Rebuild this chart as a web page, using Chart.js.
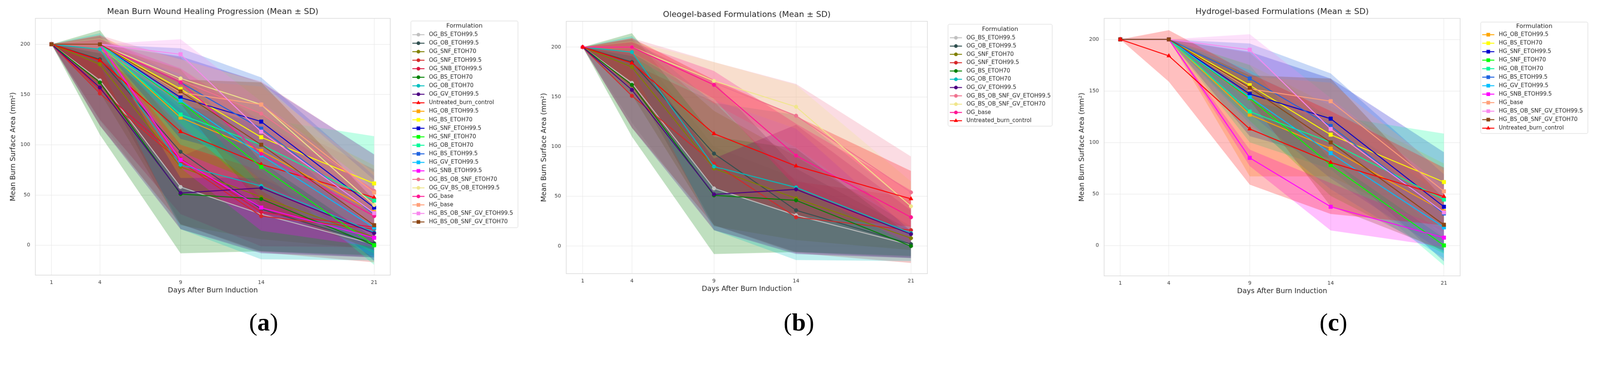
<!DOCTYPE html>
<html>
<head>
<meta charset="UTF-8">
<title>Burn Wound Healing Progression</title>
<script src="https://cdn.jsdelivr.net/npm/chart.js"></script>
<style>
html,body{margin:0; padding:0; background:#fff; overflow:hidden;}
#page{
  position:absolute;
  left:0; top:0;
  width:4346px;
  height:943px;
  transform-origin:0 0;
  background:#fff;
}
canvas{position:absolute; top:0;}
.tag{
  position:absolute;
  top:836px;
  font-family:'Liberation Serif';
  font-size:68px;
  line-height:80px;
  transform:translateX(-50%);
  color:#000;
}
</style>
</head>
<body>
<div id="page">
<canvas id="chartA" width="1420" height="830" style="left:0px"></canvas>
<canvas id="chartB" width="1430" height="830" style="left:1442px"></canvas>
<canvas id="chartC" width="1443" height="830" style="left:2903px"></canvas>

<div class="tag" style="left:716px">(<b>a</b>)</div>
<div class="tag" style="left:2170px">(<b>b</b>)</div>
<div class="tag" style="left:3622px">(<b>c</b>)</div>
</div>

<script>

// days after burn induction
const days = [1, 4, 9, 14, 21];
const yTicks = [0, 50, 100, 150, 200];

// mean area (mm²) and SD, per formulation
const m_OG_BS_995  = [200, 164, 58, 31, 1],      s_OG_BS_995  = [0, 40, 42, 37, 12];
const m_OG_OB_995  = [200, 185, 93, 36, 2],      s_OG_OB_995  = [0, 20, 72, 42, 14];
const m_OG_SNF_70  = [200, 180, 78, 48, 8],      s_OG_SNF_70  = [0, 28, 58, 42, 12];
const m_OG_SNF_995 = [200, 151, 83, 29, 16],     s_OG_SNF_995 = [0, 32, 62, 36, 33];
const m_OG_SNB_995 = [200, 155, 86, 33, 18],     s_OG_SNB_995 = [0, 30, 55, 34, 20];
const m_OG_BS_70   = [200, 162, 51, 46, 0],      s_OG_BS_70   = [0, 52, 59, 52, 10];
const m_OG_OB_70   = [200, 195, 80, 59, 13],     s_OG_OB_70   = [0, 16, 64, 73, 28];
const m_OG_GV_995  = [200, 157, 52, 57, 12],     s_OG_GV_995  = [0, 38, 36, 65, 24];
const m_CTRL       = [200, 184, 113, 80.5, 47.5], s_CTRL      = [0, 25, 54, 50, 28];
const m_OG_MIX_995 = [200, 200, 164, 131, 54],   s_OG_MIX_995 = [0, 9, 21, 32, 36];
const m_OG_MIX_70  = [200, 200, 166, 140, 40],   s_OG_MIX_70  = [0, 6, 19, 22, 25];
const m_OG_base    = [200, 200, 162, 91, 29],    s_OG_base    = [0, 5, 14, 32, 27];

const m_HG_OB_995  = [200, 200, 127, 94, 33],    s_HG_OB_995  = [0, 0, 60, 27, 20];
const m_HG_BS_70   = [200, 200, 155.5, 107.5, 61.5], s_HG_BS_70 = [0, 0, 20, 28, 18];
const m_HG_SNF_995 = [200, 200, 147, 123, 37.5], s_HG_SNF_995 = [0, 0, 41, 39, 53];
const m_HG_SNF_70  = [200, 200, 143, 78, 0],     s_HG_SNF_70  = [0, 0, 22, 30, 8];
const m_HG_OB_70   = [200, 200, 130, 100, 44.5], s_HG_OB_70   = [0, 0, 30, 26, 64];
const m_HG_BS_995  = [200, 200, 162, 116, 31],   s_HG_BS_995  = [0, 0, 34, 51, 38];
const m_HG_GV_995  = [200, 200, 144, 89.5, 17.5], s_HG_GV_995 = [0, 0, 26, 35, 30];
const m_HG_SNB_995 = [200, 200, 85, 37.5, 7.5],  s_HG_SNB_995 = [0, 0, 8, 23, 9];
const m_HG_base    = [200, 200, 152, 140, 52.5], s_HG_base    = [0, 0, 12, 18, 20];
const m_HG_MIX_995 = [200, 200, 190, 113, 32],   s_HG_MIX_995 = [0, 0, 15, 30, 25];
const m_HG_MIX_70  = [200, 200, 153, 100, 20],   s_HG_MIX_70  = [0, 0, 12, 62, 25];

// series table: data + look
const series = {
  OG_BS_995:  {mean:m_OG_BS_995,  sd:s_OG_BS_995,  color:'#c0c0c0', marker:'circle'},
  OG_OB_995:  {mean:m_OG_OB_995,  sd:s_OG_OB_995,  color:'#2f4f4f', marker:'circle'},
  OG_SNF_70:  {mean:m_OG_SNF_70,  sd:s_OG_SNF_70,  color:'#808000', marker:'circle'},
  OG_SNF_995: {mean:m_OG_SNF_995, sd:s_OG_SNF_995, color:'#d62728', marker:'circle'},
  OG_SNB_995: {mean:m_OG_SNB_995, sd:s_OG_SNB_995, color:'#dc143c', marker:'circle'},
  OG_BS_70:   {mean:m_OG_BS_70,   sd:s_OG_BS_70,   color:'#008000', marker:'circle'},
  OG_OB_70:   {mean:m_OG_OB_70,   sd:s_OG_OB_70,   color:'#00bfbf', marker:'circle'},
  OG_GV_995:  {mean:m_OG_GV_995,  sd:s_OG_GV_995,  color:'#4b0082', marker:'circle'},
  CTRL:       {mean:m_CTRL,       sd:s_CTRL,       color:'#ff0000', marker:'triangle'},
  HG_OB_995:  {mean:m_HG_OB_995,  sd:s_HG_OB_995,  color:'#ffa500', marker:'rect'},
  HG_BS_70:   {mean:m_HG_BS_70,   sd:s_HG_BS_70,   color:'#ffff00', marker:'rect'},
  HG_SNF_995: {mean:m_HG_SNF_995, sd:s_HG_SNF_995, color:'#0000cd', marker:'rect'},
  HG_SNF_70:  {mean:m_HG_SNF_70,  sd:s_HG_SNF_70,  color:'#00ff00', marker:'rect'},
  HG_OB_70:   {mean:m_HG_OB_70,   sd:s_HG_OB_70,   color:'#00fa9a', marker:'rect'},
  HG_BS_995:  {mean:m_HG_BS_995,  sd:s_HG_BS_995,  color:'#1e63e0', marker:'rect'},
  HG_GV_995:  {mean:m_HG_GV_995,  sd:s_HG_GV_995,  color:'#00bfff', marker:'rect'},
  HG_SNB_995: {mean:m_HG_SNB_995, sd:s_HG_SNB_995, color:'#ff00ff', marker:'rect'},
  OG_MIX_995: {mean:m_OG_MIX_995, sd:s_OG_MIX_995, color:'#f0728f', marker:'circle'},
  OG_MIX_70:  {mean:m_OG_MIX_70,  sd:s_OG_MIX_70,  color:'#f0e68c', marker:'circle'},
  OG_base:    {mean:m_OG_base,    sd:s_OG_base,    color:'#ff1493', marker:'circle'},
  HG_base:    {mean:m_HG_base,    sd:s_HG_base,    color:'#ffa07a', marker:'rect'},
  HG_MIX_995: {mean:m_HG_MIX_995, sd:s_HG_MIX_995, color:'#f887ee', marker:'rect'},
  HG_MIX_70:  {mean:m_HG_MIX_70,  sd:s_HG_MIX_70,  color:'#8b4513', marker:'rect'}
};

// legend labels per panel (in plotting order)
const panelA = [
  ['OG_BS_995','OG_BS_ETOH99.5'], ['OG_OB_995','OG_OB_ETOH99.5'], ['OG_SNF_70','OG_SNF_ETOH70'],
  ['OG_SNF_995','OG_SNF_ETOH99.5'], ['OG_SNB_995','OG_SNB_ETOH99.5'], ['OG_BS_70','OG_BS_ETOH70'],
  ['OG_OB_70','OG_OB_ETOH70'], ['OG_GV_995','OG_GV_ETOH99.5'], ['CTRL','Untreated_burn_control'],
  ['HG_OB_995','HG_OB_ETOH99.5'], ['HG_BS_70','HG_BS_ETOH70'], ['HG_SNF_995','HG_SNF_ETOH99.5'],
  ['HG_SNF_70','HG_SNF_ETOH70'], ['HG_OB_70','HG_OB_ETOH70'], ['HG_BS_995','HG_BS_ETOH99.5'],
  ['HG_GV_995','HG_GV_ETOH99.5'], ['HG_SNB_995','HG_SNB_ETOH99.5'], ['OG_MIX_995','OG_BS_OB_SNF_ETOH70'],
  ['OG_MIX_70','OG_GV_BS_OB_ETOH99.5'], ['OG_base','OG_base'], ['HG_base','HG_base'],
  ['HG_MIX_995','HG_BS_OB_SNF_GV_ETOH99.5'], ['HG_MIX_70','HG_BS_OB_SNF_GV_ETOH70']
];
const panelB = [
  ['OG_BS_995','OG_BS_ETOH99.5'], ['OG_OB_995','OG_OB_ETOH99.5'], ['OG_SNF_70','OG_SNF_ETOH70'],
  ['OG_SNF_995','OG_SNF_ETOH99.5'], ['OG_BS_70','OG_BS_ETOH70'], ['OG_OB_70','OG_OB_ETOH70'],
  ['OG_GV_995','OG_GV_ETOH99.5'], ['OG_MIX_995','OG_BS_OB_SNF_GV_ETOH99.5'],
  ['OG_MIX_70','OG_BS_OB_SNF_GV_ETOH70'], ['OG_base','OG_base'], ['CTRL','Untreated_burn_control']
];
const panelC = [
  ['HG_OB_995','HG_OB_ETOH99.5'], ['HG_BS_70','HG_BS_ETOH70'], ['HG_SNF_995','HG_SNF_ETOH99.5'],
  ['HG_SNF_70','HG_SNF_ETOH70'], ['HG_OB_70','HG_OB_ETOH70'], ['HG_BS_995','HG_BS_ETOH99.5'],
  ['HG_GV_995','HG_GV_ETOH99.5'], ['HG_SNB_995','HG_SNB_ETOH99.5'], ['HG_base','HG_base'],
  ['HG_MIX_995','HG_BS_OB_SNF_GV_ETOH99.5'], ['HG_MIX_70','HG_BS_OB_SNF_GV_ETOH70'],
  ['CTRL','Untreated_burn_control']
];

const FONT = "'DejaVu Sans'";
const TXT = '#262626';

// fit the 4346x943 figure to whatever the window really is
const fitK = Math.min(window.innerWidth / 4346, window.innerHeight / 943);
document.getElementById('page').style.transform = 'scale(' + fitK + ')';

function rgba(hex, a){
  const n = parseInt(hex.slice(1), 16);
  return 'rgba(' + (n>>16 & 255) + ',' + (n>>8 & 255) + ',' + (n & 255) + ',' + a + ')';
}

function markerRadius(m){
  return m === 'rect' ? 7 : (m === 'triangle' ? 6.5 : 5);
}

function drawMarker(ctx, m, x, y, color){
  ctx.fillStyle = color;
  ctx.beginPath();
  if (m === 'rect'){
    ctx.rect(x - 5, y - 5, 10, 10);
  } else if (m === 'triangle'){
    const r = 6.5;
    ctx.moveTo(x, y - r);
    ctx.lineTo(x + r*0.866, y + r*0.5);
    ctx.lineTo(x - r*0.866, y + r*0.5);
    ctx.closePath();
  } else {
    ctx.arc(x, y, 5, 0, Math.PI*2);
  }
  ctx.fill();
}

// plot frame (all four spines)
const frame = {
  id: 'frame',
  afterDatasetsDraw(chart){
    const {ctx, chartArea:a} = chart;
    ctx.save();
    ctx.strokeStyle = '#d9d9d9';
    ctx.lineWidth = 1.6;
    ctx.strokeRect(a.left, a.top, a.right - a.left, a.bottom - a.top);
    ctx.restore();
  }
};

// matplotlib style boxed legend
const boxLegend = {
  id: 'boxLegend',
  afterDraw(chart, args, o){
    const ctx = chart.ctx;
    const lines = chart.data.datasets.filter(d => !d.isBand);
    ctx.save();
    ctx.beginPath();
    ctx.roundRect(o.x, o.y, o.w, o.h, 4);
    ctx.fillStyle = 'rgba(255,255,255,0.85)';
    ctx.fill();
    ctx.strokeStyle = '#e0e0e0';
    ctx.lineWidth = 1.5;
    ctx.stroke();

    ctx.fillStyle = TXT;
    ctx.textBaseline = 'middle';
    ctx.textAlign = 'center';
    ctx.font = '16.5px ' + FONT;
    ctx.fillText('Formulation', o.x + o.w/2, o.titleY);

    ctx.textAlign = 'left';
    ctx.font = '15px ' + FONT;
    lines.forEach((d, i) => {
      const y = o.firstY + i*o.step;
      ctx.strokeStyle = d.borderColor;
      ctx.lineWidth = 2.5;
      ctx.beginPath();
      ctx.moveTo(o.hx0, y);
      ctx.lineTo(o.hx1, y);
      ctx.stroke();
      drawMarker(ctx, d.pointStyle, (o.hx0 + o.hx1)/2, y, d.borderColor);
      ctx.fillStyle = TXT;
      ctx.fillText(d.label, o.tx, y);
    });
    ctx.restore();
  }
};

function buildDatasets(list){
  const bands = [], lines = [];
  list.forEach(([id, label], i) => {
    const s = series[id];
    bands.push({
      isBand: true, label: '',
      data: days.map((d, k) => ({x: d, y: s.mean[k] + s.sd[k]})),
      borderWidth: 0, borderColor: 'rgba(0,0,0,0)', pointRadius: 0,
      fill: '+1', backgroundColor: rgba(s.color, 0.25),
      order: 1000 - i
    });
    bands.push({
      isBand: true, label: '',
      data: days.map((d, k) => ({x: d, y: s.mean[k] - s.sd[k]})),
      borderWidth: 0, borderColor: 'rgba(0,0,0,0)', pointRadius: 0,
      fill: false, order: 1000 - i
    });
    lines.push({
      label: label,
      data: days.map((d, k) => ({x: d, y: s.mean[k]})),
      borderColor: s.color,
      backgroundColor: s.color,
      borderWidth: 2.5,
      pointStyle: s.marker,
      pointRadius: markerRadius(s.marker),
      pointBackgroundColor: s.color,
      pointBorderColor: s.color,
      pointBorderWidth: 1,
      fill: false,
      tension: 0,
      order: 100 - i
    });
  });
  return bands.concat(lines);
}

// p: page geometry of one panel
function makeChart(canvasId, list, title, p){
  const cv = document.getElementById(canvasId);
  const L = p.L - p.cx, R = p.R - p.cx;
  const W = cv.width, H = cv.height;
  return new Chart(cv, {
    type: 'line',
    data: {datasets: buildDatasets(list)},
    options: {
      responsive: false,
      animation: false,
      layout: {padding: {left: 0, right: W - R, top: p.T - 30.8, bottom: H - p.B - 60}},
      plugins: {
        legend: {display: false},
        tooltip: {enabled: false},
        filler: {drawTime: 'beforeDatasetsDraw'},
        title: {
          display: true, text: title, fullSize: false, color: TXT,
          font: {family: FONT, size: 22, weight: 'normal'},
          padding: {top: 0, bottom: 4.4}
        },
        boxLegend: {
          x: p.lg.x - p.cx, y: p.lg.y, w: p.lg.w, h: p.lg.h,
          titleY: p.lg.titleY, firstY: p.lg.firstY, step: p.lg.step,
          hx0: p.lg.hx0 - p.cx, hx1: p.lg.hx1 - p.cx, tx: p.lg.tx - p.cx
        }
      },
      scales: {
        x: {
          type: 'linear', min: 0, max: 22,
          afterBuildTicks: s => { s.ticks = days.map(v => ({value: v})); },
          afterFit: s => { s.height = 60; },
          grid: {color: '#e8e8e8', lineWidth: 1.2, drawTicks: false, tickLength: 0},
          border: {display: false},
          ticks: {color: '#3a3a3a', font: {family: FONT, size: 14}, padding: 12, maxRotation: 0},
          title: {display: true, text: 'Days After Burn Induction', color: TXT,
                  font: {family: FONT, size: 19}, padding: {top: 0, bottom: 6.6}}
        },
        y: {
          min: p.yMin, max: p.yMax,
          afterBuildTicks: s => { s.ticks = yTicks.map(v => ({value: v})); },
          afterFit: s => { s.width = L; },
          grid: {color: '#e8e8e8', lineWidth: 1.2, drawTicks: false, tickLength: 0},
          border: {display: false},
          ticks: {color: '#3a3a3a', font: {family: FONT, size: 14}, padding: 14},
          title: {display: true, text: 'Mean Burn Surface Area (mm²)', color: TXT,
                  font: {family: FONT, size: 19}, padding: {top: 24.6, bottom: 0}}
        }
      }
    },
    plugins: [frame, boxLegend]
  });
}

makeChart('chartA', panelA, 'Mean Burn Wound Healing Progression (Mean ± SD)', {
  cx: 0, L: 96, R: 1060, T: 50, B: 748, yMin: -29.7, yMax: 225.7,
  lg: {x: 1116, y: 57, w: 291, h: 562, titleY: 71, firstY: 94.3, step: 23.14, hx0: 1120, hx1: 1153, tx: 1165}
});

makeChart('chartB', panelB, 'Oleogel-based Formulations (Mean ± SD)', {
  cx: 1442, L: 1538, R: 2519, T: 58, B: 744, yMin: -27.7, yMax: 225.9,
  lg: {x: 2575, y: 66, w: 283, h: 277, titleY: 79.3, firstY: 102.7, step: 22.56, hx0: 2580, hx1: 2613, tx: 2625}
});

makeChart('chartC', panelC, 'Hydrogel-based Formulations (Mean ± SD)', {
  cx: 2903, L: 2999, R: 3966, T: 50, B: 750, yMin: -29.6, yMax: 220.4,
  lg: {x: 4022, y: 60, w: 291, h: 303, titleY: 72, firstY: 94.3, step: 23.1, hx0: 4026, hx1: 4059, tx: 4071}
});

</script>
</body>
</html>
